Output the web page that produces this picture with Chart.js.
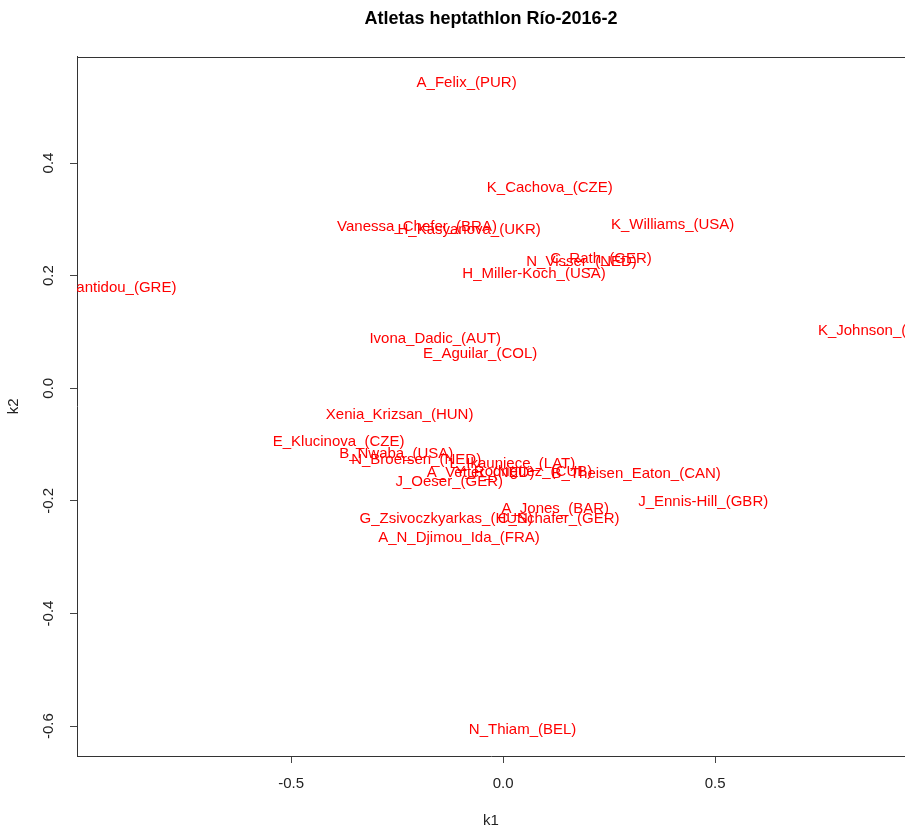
<!DOCTYPE html>
<html>
<head>
<meta charset="utf-8">
<script src="https://cdn.jsdelivr.net/npm/chart.js@4"></script>
<style>
html, body { margin: 0; padding: 0; background: #fff; overflow: hidden; }
#wrap { width: 905px; height: 830px; }
</style>
</head>
<body>
<div id="wrap"><canvas id="heptChart"></canvas></div>
<script>
var atletas = ['A_Felix_(PUR)', 'K_Cachova_(CZE)', 'K_Williams_(USA)', 'Vanessa_Chefer_(BRA)',
    'H_Kasyanova_(UKR)', 'C_Rath_(GER)', 'N_Visser_(NED)', 'H_Miller-Koch_(USA)',
    'S_Ifantidou_(GRE)', 'K_Johnson_(GBR)', 'Ivona_Dadic_(AUT)', 'E_Aguilar_(COL)',
    'Xenia_Krizsan_(HUN)', 'E_Klucinova_(CZE)', 'B_Nwaba_(USA)', 'N_Broersen_(NED)',
    'L_Ikauniece_(LAT)', 'A_Vetter_(NED)', 'Y_Rodriguez_(CUB)', 'B_Theisen_Eaton_(CAN)',
    'J_Oeser_(GER)', 'J_Ennis-Hill_(GBR)', 'A_Jones_(BAR)', 'G_Zsivoczkyarkas_(HUN)',
    'C_Schafer_(GER)', 'A_N_Djimou_Ida_(FRA)', 'N_Thiam_(BEL)'];

var k1 = [-0.086, 0.110, 0.400, -0.203, -0.080, 0.231, 0.185, 0.073,
    -0.920, 0.891, -0.160, -0.054, -0.244, -0.388, -0.252, -0.205,
    0.022, -0.053, 0.049, 0.314, -0.127, 0.472, 0.123, -0.134,
    0.131, -0.104, 0.046];

var k2 = [0.543, 0.356, 0.291, 0.287, 0.282, 0.230, 0.224, 0.204,
    0.179, 0.102, 0.088, 0.061, -0.047, -0.095, -0.116, -0.127,
    -0.134, -0.151, -0.149, -0.152, -0.166, -0.201, -0.214, -0.231,
    -0.231, -0.266, -0.607];

var xTicks = [-0.5, 0, 0.5];
var yTicks = [-0.6, -0.4, -0.2, 0, 0.2, 0.4];

var fuente = '"Liberation Sans", Arial, sans-serif';

var puntos = [];
for (var i in k1) {
    puntos.push({x: k1[i], y: k2[i]});
}

// names written in red at each point, clipped to the plot box
var etiquetas = {
    id: 'etiquetas',
    afterDatasetsDraw: function(chart) {
        var ctx = chart.ctx;
        var area = chart.chartArea;
        var meta = chart.getDatasetMeta(0);
        ctx.save();
        ctx.strokeStyle = '#333';
        ctx.lineWidth = 1;
        ctx.beginPath();
        ctx.moveTo(area.left, Math.round(area.top) + 0.5);
        ctx.lineTo(area.right, Math.round(area.top) + 0.5);
        ctx.stroke();

        ctx.beginPath();
        ctx.rect(area.left, area.top, area.right - area.left, area.bottom - area.top);
        ctx.clip();
        ctx.fillStyle = '#ff0000';
        ctx.font = '15px ' + fuente;
        ctx.textAlign = 'center';
        ctx.textBaseline = 'middle';
        meta.data.forEach(function(p, j) {
            ctx.fillText(atletas[j], p.x, p.y);
        });
        ctx.restore();
    }
};

var ctx = document.getElementById('heptChart');
var grafico = new Chart(ctx, {
    type: 'scatter',
    data: {
        datasets: [{
            data: puntos,
            pointRadius: 0,
            pointHoverRadius: 0
        }]
    },
    options: {
        responsive: true,
        maintainAspectRatio: false,
        animation: false,
        events: [],
        layout: { padding: 0 },
        plugins: {
            legend: { display: false },
            tooltip: { enabled: false },
            title: {
                display: true,
                fullSize: false,
                text: 'Atletas heptathlon Río-2016-2',
                color: '#000',
                font: { family: fuente, size: 18, weight: 'bold' },
                padding: { top: 8, bottom: 27 }
            }
        },
        scales: {
            x: {
                type: 'linear',
                min: -1.005,
                max: 0.948,
                afterFit: function(s) { s.height = 74; },
                afterBuildTicks: function(s) {
                    s.ticks = xTicks.map(function(v) { return {value: v}; });
                },
                grid: { drawOnChartArea: false, tickLength: 7, color: '#444' },
                border: { color: '#333' },
                ticks: {
                    padding: 12,
                    color: '#222',
                    font: { family: fuente, size: 15 },
                    callback: function(v) { return Number(v).toFixed(1); }
                },
                title: {
                    display: true,
                    text: 'k1',
                    color: '#222',
                    font: { family: fuente, size: 15 },
                    padding: { top: 0, bottom: 0 }
                }
            },
            y: {
                type: 'linear',
                min: -0.653,
                max: 0.589,
                afterFit: function(s) { s.width = 77; },
                afterBuildTicks: function(s) {
                    s.ticks = yTicks.map(function(v) { return {value: v}; });
                },
                grid: { drawOnChartArea: false, tickLength: 7, color: '#444' },
                border: { color: '#333' },
                ticks: {
                    minRotation: 90,
                    maxRotation: 90,
                    crossAlign: 'center',
                    padding: 8,
                    color: '#222',
                    font: { family: fuente, size: 15 },
                    callback: function(v) { return Number(v).toFixed(1); }
                },
                title: {
                    display: true,
                    text: 'k2',
                    color: '#222',
                    font: { family: fuente, size: 15 },
                    padding: { top: 5, bottom: 0 }
                }
            }
        }
    },
    plugins: [etiquetas]
});
</script>
</body>
</html>
